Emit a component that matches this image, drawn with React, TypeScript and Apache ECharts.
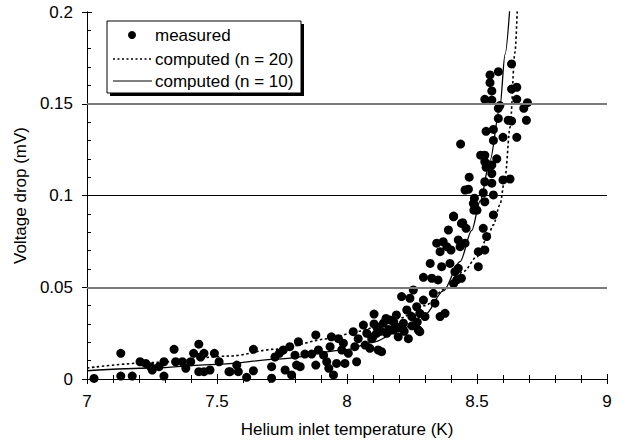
import React, { useEffect, useRef } from "react";
import * as echarts from "echarts";

const FONT = "'Liberation Sans', Arial, Helvetica, sans-serif";

const xTicks = { min: 7, max: 9, interval: 0.5 };
const yTicks = { min: 0, max: 0.2, interval: 0.05 };
const gridLevels = [0.05, 0.1, 0.15];

const legendLabels = ["measured", "computed (n = 20)", "computed (n = 10)"];
const xTitle = "Helium inlet temperature (K)";
const yTitle = "Voltage drop (mV)";

const measured: [number, number][] = [
  [7.027, 0.0003], [7.13, 0.014], [7.13, 0.0016], [7.174, 0.0016], [7.204, 0.0094], [7.226, 0.0085],
  [7.245, 0.0067], [7.251, 0.0049], [7.277, 0.0067], [7.296, 0.0094], [7.296, 0.0016], [7.335, 0.0162],
  [7.341, 0.0094], [7.367, 0.0094], [7.38, 0.0058], [7.399, 0.0094], [7.41, 0.014], [7.43, 0.019],
  [7.437, 0.012], [7.45, 0.014], [7.43, 0.004], [7.45, 0.004], [7.473, 0.0049], [7.49, 0.014],
  [7.508, 0.0094], [7.546, 0.004],
  [7.55, 0.004], [7.576, 0.0076], [7.582, 0.004], [7.614, 0.0009], [7.64, 0.0162], [7.64, 0.0045],
  [7.71, 0.0067], [7.71, 0.0004], [7.723, 0.012], [7.74, 0.014], [7.755, 0.0158], [7.762, 0.0049],
  [7.78, 0.0176], [7.787, 0.0022], [7.8, 0.013], [7.806, 0.0076], [7.813, 0.0203], [7.82, 0.0067],
  [7.838, 0.0136], [7.864, 0.0136], [7.88, 0.024], [7.88, 0.0076], [7.89, 0.0158], [7.91, 0.013],
  [7.922, 0.0094], [7.93, 0.0058], [7.935, 0.0176], [7.94, 0.023], [7.948, 0.0022], [7.96, 0.0085],
  [7.967, 0.022], [7.98, 0.0158], [7.986, 0.0195], [7.992, 0.0085], [8.005, 0.014], [8.024, 0.0258],
  [8.03, 0.0176], [8.037, 0.0094], [8.043, 0.022], [8.063, 0.0294], [8.07, 0.0185], [8.076, 0.0249],
  [8.088, 0.0167], [8.095, 0.022], [8.104, 0.0354], [8.104, 0.03], [8.114, 0.0249], [8.12, 0.0158],
  [8.1, 0.023], [8.114, 0.0285], [8.14, 0.0304], [8.153, 0.0249], [8.165, 0.0322], [8.178, 0.0267],
  [8.19, 0.0349], [8.197, 0.023], [8.21, 0.0449], [8.217, 0.0304], [8.23, 0.0376], [8.236, 0.022],
  [8.242, 0.044], [8.249, 0.034], [8.255, 0.0485], [8.268, 0.0394], [8.274, 0.0267], [8.28, 0.0358],
  [8.294, 0.043], [8.294, 0.0554], [8.3, 0.034], [8.32, 0.063], [8.326, 0.0549], [8.332, 0.0467],
  [8.338, 0.0413], [8.345, 0.074], [8.35, 0.054], [8.358, 0.0694], [8.358, 0.034], [8.364, 0.0612],
  [8.37, 0.0748], [8.377, 0.0358], [8.384, 0.0721], [8.39, 0.0812], [8.396, 0.063], [8.4, 0.0703],
  [8.41, 0.0884], [8.41, 0.052], [8.415, 0.0585], [8.422, 0.054], [8.428, 0.0758], [8.435, 0.0721],
  [8.428, 0.0603], [8.44, 0.0848], [8.44, 0.0549], [8.454, 0.074], [8.505, 0.0694], [8.505, 0.0612],
  [8.486, 0.0957], [8.5, 0.092], [8.133, 0.0149], [8.28, 0.0258], [8.53, 0.0703], [8.537, 0.0776],
  [8.16, 0.027], [8.2, 0.028], [8.18, 0.031], [8.22, 0.026], [8.25, 0.029], [8.27, 0.031],
  [8.13, 0.026], [8.15, 0.033],
  [8.582, 0.1675], [8.633, 0.1717], [8.55, 0.1657], [8.55, 0.1615], [8.557, 0.157], [8.633, 0.158],
  [8.653, 0.159], [8.53, 0.1524], [8.557, 0.152], [8.653, 0.1524], [8.694, 0.1506], [8.582, 0.1475],
  [8.588, 0.149], [8.68, 0.1475], [8.69, 0.141], [8.582, 0.142], [8.62, 0.141], [8.633, 0.1406],
  [8.563, 0.136], [8.535, 0.135], [8.563, 0.13], [8.6, 0.1317], [8.653, 0.1317], [8.437, 0.128],
  [8.514, 0.122], [8.53, 0.122], [8.576, 0.12], [8.53, 0.1184], [8.557, 0.1166], [8.535, 0.1154],
  [8.47, 0.11], [8.557, 0.112], [8.6, 0.1085], [8.627, 0.109], [8.53, 0.1075], [8.557, 0.1067],
  [8.467, 0.1034], [8.524, 0.1015], [8.563, 0.1003], [8.49, 0.0985], [8.53, 0.0966], [8.49, 0.0948],
  [8.488, 0.092], [8.41, 0.0888], [8.563, 0.0894], [8.445, 0.0852], [8.458, 0.0821], [8.524, 0.0821],
  [8.454, 0.103],
];

const computedN20: [number, number][] = [
  [7.0, 0.006], [7.25, 0.009], [7.55, 0.0125], [7.72, 0.0162], [7.935, 0.022], [8.04, 0.026],
  [8.2, 0.033], [8.3, 0.04], [8.377, 0.049], [8.448, 0.0585], [8.5, 0.0667], [8.54, 0.077],
  [8.563, 0.084], [8.588, 0.095], [8.608, 0.11], [8.627, 0.137], [8.646, 0.178], [8.656, 0.205],
];

const computedN10: [number, number][] = [
  [7.0, 0.0045], [7.25, 0.006], [7.5, 0.008], [7.75, 0.011], [8.0, 0.016], [8.1, 0.02],
  [8.2, 0.026], [8.3, 0.035], [8.37, 0.048], [8.435, 0.064], [8.48, 0.081], [8.512, 0.097],
  [8.55, 0.119], [8.588, 0.148], [8.608, 0.177], [8.628, 0.206],
];

export default function App() {
  const ref = useRef<HTMLDivElement>(null);
  useEffect(() => {
    if (!ref.current) return;
    const chart = echarts.init(ref.current, undefined, { renderer: "svg" });
    const txt = { color: "#000", fontFamily: FONT, fontSize: 17 };
    const lx = 107, ly = 21, lw = 194, lh = 72;
    chart.setOption({
      animation: false,
      backgroundColor: "#fff",
      grid: { left: 87, right: 21, top: 12, bottom: 68 },
      xAxis: [
        {
          type: "value", min: xTicks.min, max: xTicks.max, interval: xTicks.interval,
          position: "bottom",
          axisLine: { show: true, lineStyle: { color: "#000", width: 1 } },
          axisTick: { show: true, length: 5, lineStyle: { color: "#000" } },
          minorTick: { show: true, splitNumber: 5, length: 4, lineStyle: { color: "#000" } },
          axisLabel: { ...txt, margin: 14 },
          splitLine: { show: false },
          name: xTitle, nameLocation: "middle", nameGap: 42,
          nameTextStyle: { ...txt },
        },
        {
          type: "value", min: xTicks.min, max: xTicks.max, interval: xTicks.interval,
          position: "bottom",
          axisLine: { show: true, lineStyle: { color: "#000" } },
          axisTick: { show: true, inside: true, length: 5, lineStyle: { color: "#000" } },
          minorTick: { show: true, splitNumber: 5, length: 4, lineStyle: { color: "#000" } },
          axisLabel: { show: false }, splitLine: { show: false },
        },
      ],
      yAxis: [
        {
          type: "value", min: yTicks.min, max: yTicks.max, interval: yTicks.interval,
          position: "left",
          axisLine: { show: true, lineStyle: { color: "#000", width: 1 } },
          axisTick: { show: true, length: 5, lineStyle: { color: "#000" } },
          axisLabel: { ...txt, margin: 14 },
          splitLine: { show: false },
          name: yTitle, nameLocation: "middle", nameGap: 55,
          nameTextStyle: { ...txt },
        },
        {
          type: "value", min: yTicks.min, max: yTicks.max, interval: yTicks.interval,
          position: "left",
          axisLine: { show: true, lineStyle: { color: "#000" } },
          axisTick: { show: true, inside: true, length: 5, lineStyle: { color: "#000" } },
          minorTick: { show: true, splitNumber: 5, length: 4, lineStyle: { color: "#000" } },
          axisLabel: { show: false }, splitLine: { show: false },
        },
      ],
      series: [
        { type: "line", name: "ticks", data: [], xAxisIndex: 1, yAxisIndex: 1 },
        {
          type: "line", name: "grid", data: [], xAxisIndex: 0, yAxisIndex: 0,
          markLine: {
            silent: true, symbol: "none", label: { show: false }, animation: false,
            data: gridLevels.map((v, i) => ({
              yAxis: v,
              lineStyle: i === 1
                ? { color: "#000", width: 1, type: "solid" }
                : { color: "#7a7a7a", width: 2, type: "solid" },
            })),
          },
          z: 1,
        },
        {
          type: "line", name: legendLabels[1], data: computedN20, showSymbol: false, symbol: "none",
          smooth: 0.3, smoothMonotone: "x", clip: true, xAxisIndex: 0, yAxisIndex: 0,
          lineStyle: { color: "#000", width: 1.6, type: [2.5, 2.5] }, z: 3,
        },
        {
          type: "line", name: legendLabels[2], data: computedN10, showSymbol: false, symbol: "none",
          smooth: 0.3, smoothMonotone: "x", clip: true, xAxisIndex: 0, yAxisIndex: 0,
          lineStyle: { color: "#000", width: 1.3, type: "solid" }, z: 3,
        },
        {
          type: "scatter", name: legendLabels[0], data: measured, symbol: "circle", symbolSize: 9,
          xAxisIndex: 0, yAxisIndex: 0,
          itemStyle: { color: "#000", opacity: 1 }, z: 4,
        },
      ],
      graphic: [
        { type: "rect", shape: { x: lx + 3, y: ly + 3, width: lw, height: lh }, style: { fill: "#000" }, z: 10 },
        { type: "rect", shape: { x: lx, y: ly, width: lw, height: lh }, style: { fill: "#fff", stroke: "#000", lineWidth: 1 }, z: 11 },
        { type: "circle", shape: { cx: 132, cy: 35, r: 4 }, style: { fill: "#000" }, z: 12 },
        { type: "line", shape: { x1: 113, y1: 59, x2: 152, y2: 59 }, style: { stroke: "#000", lineWidth: 1.3, lineDash: [2, 2.5] }, z: 12 },
        { type: "line", shape: { x1: 113, y1: 81, x2: 152, y2: 81 }, style: { stroke: "#000", lineWidth: 1 }, z: 12 },
        ...legendLabels.map((t, i) => ({
          type: "text", x: 155, y: [35, 59, 81][i], z: 12,
          style: { text: t, fill: "#000", font: `17px ${FONT}`, textVerticalAlign: "middle", textAlign: "left" },
        })),
      ],
    });
    return () => chart.dispose();
  }, []);
  return <div ref={ref} style={{ width: 628, height: 447, position: "absolute", left: 0, top: 0 }} />;
}
